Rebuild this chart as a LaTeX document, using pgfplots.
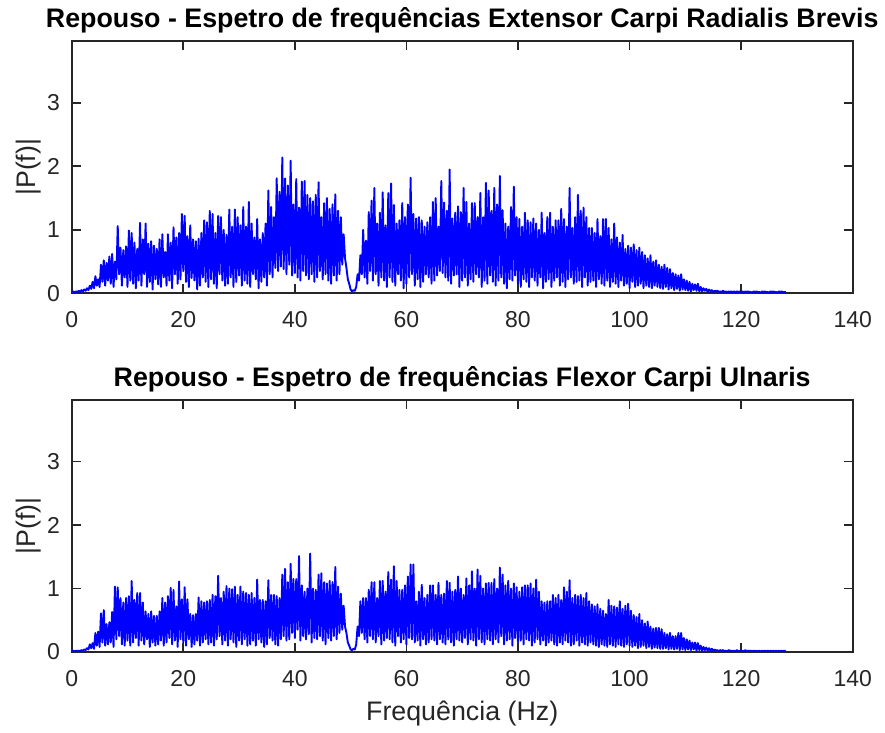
\documentclass[border=0pt]{standalone}
\usepackage{fontspec}
\setmainfont{Liberation Sans}
\usepackage{pgfplots}
\pgfplotsset{compat=1.18}
\definecolor{axgray}{rgb}{0.15,0.15,0.15}

% common look of both spectrum panels
\pgfplotsset{emgspec/.style={
  scale only axis, width=390.5pt, height=126pt,
  xmin=0, xmax=140, ymin=0, ymax=3.97,
  xtick={0,20,...,140}, ytick={0,1,2,3},
  tick align=inside, major tick length=4.5pt,
  axis line style={axgray, line width=0.9pt},
  every tick/.style={axgray, line width=0.9pt},
  tick label style={font=\fontsize{11.5}{13}\selectfont, text=axgray},
  /pgf/number format/assume math mode=true,
  xticklabel style={yshift=-5.5pt},
  yticklabel style={xshift=-2.4pt},
  ylabel={|P(f)|},
  every axis y label/.style={at={(axis description cs:-0.055,0.5)}, rotate=90,
    anchor=center, font=\fontsize{13.4}{15}\selectfont, text=axgray},
  every axis x label/.style={at={(axis description cs:0.5,0)}, anchor=center,
    yshift=-31pt, font=\fontsize{13.4}{15}\selectfont, text=axgray},
  every axis title shift=0pt,
  title style={font=\bfseries\fontsize{13.4}{15}\selectfont,
    at={(axis description cs:0.5,1)}, anchor=center, yshift=10.5pt},
},
spectrum/.style={blue, mark=none, line width=0.95pt, line join=round}}

\begin{document}
\begin{tikzpicture}
\useasboundingbox (-35.85pt,-219.85pt) rectangle (406.65pt,146.65pt);

% Extensor Carpi Radialis Brevis
\begin{axis}[emgspec, at={(0,0)}, anchor=south west,
  title={Repouso - Espetro de frequências Extensor Carpi Radialis Brevis}]
\addplot[spectrum] coordinates {
(0,0.02)(0.25,0.03)(0.5,0.01)(0.75,0.03)
(1,0.02)(1.25,0.04)(1.5,0.02)(1.75,0.05)
(2,0.03)(2.25,0.06)(2.5,0.04)(2.75,0.08)
(3,0.05)(3.25,0.12)(3.5,0.07)(3.75,0.18)
(4,0.08)(4.25,0.27)(4.5,0.12)(4.75,0.22)
(5,0.10)(5.25,0.45)(5.5,0.18)(5.75,0.52)
(6,0.12)(6.25,0.48)(6.5,0.20)(6.75,0.58)
(7,0.15)(7.25,0.62)(7.5,0.10)(7.75,0.50)
(8,0.22)(8.25,1.06)(8.5,0.30)(8.75,0.72)
(9,0.12)(9.25,0.68)(9.5,0.25)(9.75,0.74)
(10,0.10)(10.25,0.99)(10.5,0.20)(10.75,0.95)
(11,0.15)(11.25,0.80)(11.5,0.08)(11.75,0.70)
(12,0.20)(12.25,1.11)(12.5,0.12)(12.75,0.85)
(13,0.30)(13.25,1.10)(13.5,0.10)(13.75,0.78)
(14,0.18)(14.25,0.82)(14.5,0.06)(14.75,0.75)
(15,0.22)(15.25,0.70)(15.5,0.14)(15.75,0.85)
(16,0.10)(16.25,0.93)(16.5,0.25)(16.75,0.65)
(17,0.12)(17.25,0.93)(17.5,0.20)(17.75,0.80)
(18,0.08)(18.25,1.04)(18.5,0.30)(18.75,0.88)
(19,0.15)(19.25,0.95)(19.5,0.22)(19.75,1.25)
(20,0.35)(20.25,1.22)(20.5,0.18)(20.75,0.90)
(21,0.10)(21.25,1.07)(21.5,0.24)(21.75,0.85)
(22,0.20)(22.25,0.82)(22.5,0.06)(22.75,0.86)
(23,0.12)(23.25,0.95)(23.5,0.25)(23.75,1.15)
(24,0.18)(24.25,1.12)(24.5,0.10)(24.75,1.30)
(25,0.22)(25.25,1.25)(25.5,0.15)(25.75,0.95)
(26,0.08)(26.25,1.22)(26.5,0.30)(26.75,1.20)
(27,0.20)(27.25,1.00)(27.5,0.12)(27.75,0.92)
(28,0.15)(28.25,1.32)(28.5,0.25)(28.75,1.05)
(29,0.10)(29.25,1.32)(29.5,0.18)(29.75,1.20)
(30,0.28)(30.25,1.07)(30.5,0.12)(30.75,1.36)
(31,0.20)(31.25,1.05)(31.5,0.15)(31.75,1.44)
(32,0.10)(32.25,1.10)(32.5,0.30)(32.75,0.88)
(33,0.22)(33.25,1.17)(33.5,0.08)(33.75,0.85)
(34,0.18)(34.25,0.95)(34.5,0.25)(34.75,1.10)
(35,0.12)(35.25,1.62)(35.5,0.30)(35.75,1.36)
(36,0.25)(36.25,1.20)(36.5,0.40)(36.75,1.81)
(37,0.35)(37.25,1.60)(37.5,0.42)(37.75,2.14)
(38,0.38)(38.25,1.81)(38.5,0.30)(38.75,1.70)
(39,0.45)(39.25,2.09)(39.5,0.28)(39.75,1.40)
(40,0.32)(40.25,1.80)(40.5,0.25)(40.75,1.35)
(41,0.20)(41.25,1.76)(41.5,0.35)(41.75,1.77)
(42,0.28)(42.25,1.55)(42.5,0.22)(42.75,1.50)
(43,0.30)(43.25,1.45)(43.5,0.18)(43.75,1.55)
(44,0.25)(44.25,1.75)(44.5,0.35)(44.75,1.20)
(45,0.22)(45.25,1.42)(45.5,0.30)(45.75,1.50)
(46,0.20)(46.25,1.33)(46.5,0.15)(46.75,1.40)
(47,0.28)(47.25,1.56)(47.5,0.20)(47.75,1.30)
(48,0.30)(48.25,1.20)(48.5,0.45)(48.75,0.93)
(49,0.55)(49.25,0.40)(49.5,0.22)(49.75,0.15)
(50,0.06)(50.25,0.03)(50.5,0.05)(50.75,0.04)
(51,0.10)(51.25,0.30)(51.5,0.20)(51.75,0.60)
(52,0.30)(52.25,1.00)(52.5,0.25)(52.75,0.83)
(53,0.15)(53.25,1.28)(53.5,0.35)(53.75,1.46)
(54,0.20)(54.25,1.66)(54.5,0.30)(54.75,1.10)
(55,0.12)(55.25,1.27)(55.5,0.25)(55.75,1.59)
(56,0.20)(56.25,1.07)(56.5,0.10)(56.75,1.58)
(57,0.25)(57.25,1.73)(57.5,0.18)(57.75,1.39)
(58,0.12)(58.25,1.10)(58.5,0.30)(58.75,1.15)
(59,0.20)(59.25,1.42)(59.5,0.08)(59.75,1.20)
(60,0.15)(60.25,1.40)(60.5,0.25)(60.75,1.82)
(61,0.30)(61.25,1.25)(61.5,0.12)(61.75,1.18)
(62,0.22)(62.25,1.20)(62.5,0.10)(62.75,1.15)
(63,0.18)(63.25,1.05)(63.5,0.30)(63.75,1.12)
(64,0.25)(64.25,1.20)(64.5,0.15)(64.75,1.44)
(65,0.20)(65.25,1.50)(65.5,0.28)(65.75,1.05)
(66,0.35)(66.25,1.77)(66.5,0.32)(66.75,1.43)
(67,0.25)(67.25,1.30)(67.5,0.20)(67.75,1.95)
(68,0.15)(68.25,1.18)(68.5,0.28)(68.75,1.27)
(69,0.30)(69.25,1.37)(69.5,0.10)(69.75,1.28)
(70,0.20)(70.25,1.66)(70.5,0.25)(70.75,1.44)
(71,0.12)(71.25,1.10)(71.5,0.22)(71.75,1.42)
(72,0.18)(72.25,1.42)(72.5,0.30)(72.75,1.20)
(73,0.25)(73.25,1.58)(73.5,0.10)(73.75,1.20)
(74,0.20)(74.25,1.74)(74.5,0.15)(74.75,1.62)
(75,0.28)(75.25,1.30)(75.5,0.18)(75.75,1.66)
(76,0.12)(76.25,1.40)(76.5,0.20)(76.75,1.85)
(77,0.25)(77.25,1.31)(77.5,0.15)(77.75,1.10)
(78,0.08)(78.25,1.05)(78.5,0.22)(78.75,1.36)
(79,0.20)(79.25,1.68)(79.5,0.28)(79.75,1.20)
(80,0.15)(80.25,1.17)(80.5,0.10)(80.75,1.05)
(81,0.22)(81.25,1.27)(81.5,0.18)(81.75,1.15)
(82,0.10)(82.25,1.12)(82.5,0.25)(82.75,1.18)
(83,0.20)(83.25,1.10)(83.5,0.12)(83.75,1.00)
(84,0.25)(84.25,1.27)(84.5,0.08)(84.75,0.95)
(85,0.18)(85.25,1.20)(85.5,0.22)(85.75,1.27)
(86,0.10)(86.25,1.05)(86.5,0.20)(86.75,1.15)
(87,0.25)(87.25,1.15)(87.5,0.12)(87.75,1.33)
(88,0.18)(88.25,1.17)(88.5,0.10)(88.75,1.05)
(89,0.22)(89.25,1.66)(89.5,0.25)(89.75,1.03)
(90,0.15)(90.25,1.20)(90.5,0.18)(90.75,1.55)
(91,0.20)(91.25,1.30)(91.5,0.10)(91.75,1.35)
(92,0.25)(92.25,1.20)(92.5,0.12)(92.75,1.03)
(93,0.18)(93.25,1.03)(93.5,0.20)(93.75,0.95)
(94,0.10)(94.25,1.17)(94.5,0.22)(94.75,0.90)
(95,0.15)(95.25,1.17)(95.5,0.12)(95.75,1.17)
(96,0.20)(96.25,1.03)(96.5,0.10)(96.75,0.85)
(97,0.18)(97.25,1.10)(97.5,0.15)(97.75,0.88)
(98,0.10)(98.25,0.80)(98.5,0.20)(98.75,0.92)
(99,0.12)(99.25,0.70)(99.5,0.15)(99.75,0.75)
(100,0.08)(100.25,0.72)(100.5,0.18)(100.75,0.77)
(101,0.10)(101.25,0.68)(101.5,0.12)(101.75,0.72)
(102,0.15)(102.25,0.65)(102.5,0.08)(102.75,0.60)
(103,0.12)(103.25,0.55)(103.5,0.10)(103.75,0.60)
(104,0.08)(104.25,0.50)(104.5,0.12)(104.75,0.52)
(105,0.10)(105.25,0.45)(105.5,0.08)(105.75,0.42)
(106,0.07)(106.25,0.45)(106.5,0.10)(106.75,0.40)
(107,0.06)(107.25,0.38)(107.5,0.08)(107.75,0.32)
(108,0.05)(108.25,0.30)(108.5,0.07)(108.75,0.28)
(109,0.04)(109.25,0.30)(109.5,0.06)(109.75,0.22)
(110,0.05)(110.25,0.20)(110.5,0.04)(110.75,0.18)
(111,0.03)(111.25,0.15)(111.5,0.05)(111.75,0.14)
(112,0.04)(112.25,0.15)(112.5,0.03)(112.75,0.10)
(113,0.03)(113.25,0.08)(113.5,0.04)(113.75,0.07)
(114,0.02)(114.25,0.06)(114.5,0.03)(114.75,0.05)
(115,0.02)(115.25,0.04)(115.5,0.03)(115.75,0.04)
(116,0.02)(116.25,0.03)(116.5,0.02)(116.75,0.04)
(117,0.02)(117.25,0.03)(117.5,0.01)(117.75,0.03)
(118,0.02)(118.25,0.03)(118.5,0.02)(118.75,0.03)
(119,0.01)(119.25,0.03)(119.5,0.02)(119.75,0.03)
(120,0.02)(120.25,0.03)(120.5,0.01)(120.75,0.03)
(121,0.02)(121.25,0.03)(121.5,0.02)(121.75,0.02)
(122,0.01)(122.25,0.03)(122.5,0.02)(122.75,0.03)
(123,0.02)(123.25,0.02)(123.5,0.01)(123.75,0.03)
(124,0.02)(124.25,0.03)(124.5,0.02)(124.75,0.02)
(125,0.01)(125.25,0.03)(125.5,0.02)(125.75,0.03)
(126,0.02)(126.25,0.02)(126.5,0.01)(126.75,0.03)
(127,0.02)(127.25,0.03)(127.5,0.02)(127.75,0.02)
(128,0.02)
};
\end{axis}

% Flexor Carpi Ulnaris
\begin{axis}[emgspec, at={(0,-179.35pt)}, anchor=south west,
  title={Repouso - Espetro de frequências Flexor Carpi Ulnaris},
  xlabel={Frequência (Hz)}]
\addplot[spectrum] coordinates {
(0,0.01)(0.25,0.02)(0.5,0.01)(0.75,0.02)
(1,0.02)(1.25,0.02)(1.5,0.01)(1.75,0.03)
(2,0.02)(2.25,0.04)(2.5,0.03)(2.75,0.06)
(3,0.04)(3.25,0.12)(3.5,0.06)(3.75,0.14)
(4,0.05)(4.25,0.30)(4.5,0.10)(4.75,0.32)
(5,0.08)(5.25,0.61)(5.5,0.15)(5.75,0.66)
(6,0.10)(6.25,0.44)(6.5,0.12)(6.75,0.47)
(7,0.15)(7.25,0.63)(7.5,0.08)(7.75,1.03)
(8,0.20)(8.25,1.02)(8.5,0.25)(8.75,0.85)
(9,0.12)(9.25,0.78)(9.5,0.10)(9.75,0.85)
(10,0.18)(10.25,0.88)(10.5,0.10)(10.75,1.12)
(11,0.15)(11.25,0.82)(11.5,0.22)(11.75,0.93)
(12,0.10)(12.25,0.93)(12.5,0.18)(12.75,0.78)
(13,0.12)(13.25,0.64)(13.5,0.20)(13.75,0.60)
(14,0.08)(14.25,0.64)(14.5,0.15)(14.75,0.57)
(15,0.10)(15.25,0.57)(15.5,0.12)(15.75,0.64)
(16,0.18)(16.25,0.85)(16.5,0.10)(16.75,0.78)
(17,0.15)(17.25,0.88)(17.5,0.22)(17.75,1.01)
(18,0.12)(18.25,0.98)(18.5,0.18)(18.75,0.72)
(19,0.08)(19.25,1.11)(19.5,0.20)(19.75,0.83)
(20,0.15)(20.25,1.02)(20.5,0.10)(20.75,0.83)
(21,0.20)(21.25,0.60)(21.5,0.08)(21.75,0.58)
(22,0.12)(22.25,0.60)(22.5,0.18)(22.75,0.86)
(23,0.10)(23.25,0.80)(23.5,0.15)(23.75,0.78)
(24,0.20)(24.25,0.80)(24.5,0.12)(24.75,0.82)
(25,0.15)(25.25,0.90)(25.5,0.10)(25.75,0.88)
(26,0.20)(26.25,1.20)(26.5,0.25)(26.75,0.85)
(27,0.12)(27.25,0.95)(27.5,0.18)(27.75,1.04)
(28,0.10)(28.25,1.00)(28.5,0.20)(28.75,0.99)
(29,0.15)(29.25,1.03)(29.5,0.08)(29.75,0.90)
(30,0.18)(30.25,1.03)(30.5,0.12)(30.75,0.95)
(31,0.20)(31.25,0.93)(31.5,0.10)(31.75,0.90)
(32,0.12)(32.25,0.93)(32.5,0.18)(32.75,0.85)
(33,0.10)(33.25,1.14)(33.5,0.20)(33.75,0.82)
(34,0.15)(34.25,0.82)(34.5,0.08)(34.75,0.80)
(35,0.12)(35.25,1.13)(35.5,0.22)(35.75,0.90)
(36,0.18)(36.25,0.90)(36.5,0.12)(36.75,0.88)
(37,0.10)(37.25,0.85)(37.5,0.20)(37.75,1.22)
(38,0.25)(38.25,1.31)(38.5,0.18)(38.75,1.10)
(39,0.20)(39.25,1.39)(39.5,0.30)(39.75,1.15)
(40,0.22)(40.25,1.15)(40.5,0.35)(40.75,1.51)
(41,0.18)(41.25,1.05)(41.5,0.25)(41.75,0.95)
(42,0.20)(42.25,1.00)(42.5,0.28)(42.75,1.55)
(43,0.15)(43.25,1.00)(43.5,0.22)(43.75,0.98)
(44,0.20)(44.25,1.22)(44.5,0.25)(44.75,1.24)
(45,0.18)(45.25,1.10)(45.5,0.12)(45.75,1.08)
(46,0.22)(46.25,1.12)(46.5,0.18)(46.75,1.10)
(47,0.25)(47.25,1.34)(47.5,0.20)(47.75,1.03)
(48,0.30)(48.25,0.92)(48.5,0.35)(48.75,0.73)
(49,0.40)(49.25,0.30)(49.5,0.15)(49.75,0.10)
(50,0.04)(50.25,0.03)(50.5,0.05)(50.75,0.04)
(51,0.12)(51.25,0.40)(51.5,0.25)(51.75,0.80)
(52,0.30)(52.25,0.85)(52.5,0.20)(52.75,0.85)
(53,0.15)(53.25,0.98)(53.5,0.25)(53.75,1.10)
(54,0.20)(54.25,1.10)(54.5,0.15)(54.75,0.85)
(55,0.25)(55.25,1.12)(55.5,0.12)(55.75,1.12)
(56,0.18)(56.25,0.95)(56.5,0.22)(56.75,1.26)
(57,0.20)(57.25,1.14)(57.5,0.15)(57.75,1.35)
(58,0.10)(58.25,1.12)(58.5,0.25)(58.75,0.98)
(59,0.15)(59.25,0.98)(59.5,0.20)(59.75,1.05)
(60,0.12)(60.25,1.19)(60.5,0.22)(60.75,1.38)
(61,0.20)(61.25,1.38)(61.5,0.15)(61.75,0.80)
(62,0.18)(62.25,0.95)(62.5,0.10)(62.75,1.06)
(63,0.20)(63.25,0.85)(63.5,0.12)(63.75,0.90)
(64,0.15)(64.25,1.05)(64.5,0.20)(64.75,1.05)
(65,0.18)(65.25,0.90)(65.5,0.12)(65.75,1.09)
(66,0.20)(66.25,0.90)(66.5,0.15)(66.75,0.92)
(67,0.12)(67.25,1.12)(67.5,0.20)(67.75,1.09)
(68,0.15)(68.25,0.95)(68.5,0.10)(68.75,0.98)
(69,0.20)(69.25,1.19)(69.5,0.18)(69.75,1.00)
(70,0.15)(70.25,0.90)(70.5,0.22)(70.75,1.16)
(71,0.12)(71.25,1.05)(71.5,0.20)(71.75,1.27)
(72,0.18)(72.25,1.00)(72.5,0.10)(72.75,1.30)
(73,0.20)(73.25,1.20)(73.5,0.15)(73.75,1.00)
(74,0.12)(74.25,1.08)(74.5,0.20)(74.75,1.09)
(75,0.18)(75.25,1.09)(75.5,0.12)(75.75,1.15)
(76,0.20)(76.25,1.00)(76.5,0.15)(76.75,1.33)
(77,0.25)(77.25,1.22)(77.5,0.12)(77.75,1.05)
(78,0.18)(78.25,1.12)(78.5,0.20)(78.75,1.00)
(79,0.10)(79.25,1.08)(79.5,0.22)(79.75,1.02)
(80,0.15)(80.25,0.95)(80.5,0.18)(80.75,1.02)
(81,0.12)(81.25,1.05)(81.5,0.20)(81.75,1.05)
(82,0.18)(82.25,1.08)(82.5,0.10)(82.75,1.00)
(83,0.15)(83.25,1.14)(83.5,0.20)(83.75,0.95)
(84,0.12)(84.25,0.80)(84.5,0.18)(84.75,0.78)
(85,0.10)(85.25,0.80)(85.5,0.15)(85.75,0.80)
(86,0.18)(86.25,0.90)(86.5,0.12)(86.75,0.85)
(87,0.10)(87.25,0.90)(87.5,0.15)(87.75,0.82)
(88,0.12)(88.25,1.02)(88.5,0.18)(88.75,0.95)
(89,0.15)(89.25,1.13)(89.5,0.10)(89.75,0.85)
(90,0.12)(90.25,0.90)(90.5,0.18)(90.75,0.88)
(91,0.10)(91.25,0.90)(91.5,0.15)(91.75,0.85)
(92,0.12)(92.25,0.93)(92.5,0.10)(92.75,0.80)
(93,0.15)(93.25,0.75)(93.5,0.12)(93.75,0.72)
(94,0.10)(94.25,0.75)(94.5,0.08)(94.75,0.68)
(95,0.12)(95.25,0.65)(95.5,0.10)(95.75,0.60)
(96,0.08)(96.25,0.82)(96.5,0.12)(96.75,0.73)
(97,0.10)(97.25,0.72)(97.5,0.08)(97.75,0.70)
(98,0.12)(98.25,0.80)(98.5,0.10)(98.75,0.68)
(99,0.08)(99.25,0.73)(99.5,0.12)(99.75,0.76)
(100,0.10)(100.25,0.65)(100.5,0.08)(100.75,0.58)
(101,0.10)(101.25,0.55)(101.5,0.06)(101.75,0.60)
(102,0.08)(102.25,0.50)(102.5,0.10)(102.75,0.45)
(103,0.06)(103.25,0.48)(103.5,0.08)(103.75,0.40)
(104,0.05)(104.25,0.37)(104.5,0.07)(104.75,0.38)
(105,0.06)(105.25,0.38)(105.5,0.05)(105.75,0.36)
(106,0.05)(106.25,0.30)(106.5,0.06)(106.75,0.28)
(107,0.04)(107.25,0.30)(107.5,0.05)(107.75,0.25)
(108,0.04)(108.25,0.25)(108.5,0.05)(108.75,0.30)
(109,0.03)(109.25,0.30)(109.5,0.04)(109.75,0.22)
(110,0.03)(110.25,0.20)(110.5,0.04)(110.75,0.18)
(111,0.03)(111.25,0.15)(111.5,0.04)(111.75,0.15)
(112,0.02)(112.25,0.14)(112.5,0.03)(112.75,0.10)
(113,0.02)(113.25,0.08)(113.5,0.03)(113.75,0.07)
(114,0.02)(114.25,0.06)(114.5,0.02)(114.75,0.05)
(115,0.02)(115.25,0.04)(115.5,0.02)(115.75,0.03)
(116,0.01)(116.25,0.03)(116.5,0.02)(116.75,0.03)
(117,0.01)(117.25,0.02)(117.5,0.01)(117.75,0.03)
(118,0.02)(118.25,0.02)(118.5,0.01)(118.75,0.02)
(119,0.01)(119.25,0.03)(119.5,0.01)(119.75,0.02)
(120,0.01)(120.25,0.02)(120.5,0.01)(120.75,0.03)
(121,0.01)(121.25,0.02)(121.5,0.02)(121.75,0.02)
(122,0.01)(122.25,0.02)(122.5,0.01)(122.75,0.02)
(123,0.01)(123.25,0.02)(123.5,0.01)(123.75,0.02)
(124,0.01)(124.25,0.02)(124.5,0.01)(124.75,0.02)
(125,0.01)(125.25,0.02)(125.5,0.01)(125.75,0.02)
(126,0.01)(126.25,0.02)(126.5,0.01)(126.75,0.02)
(127,0.01)(127.25,0.02)(127.5,0.01)(127.75,0.02)
(128,0.01)
};
\end{axis}
\end{tikzpicture}
\end{document}
